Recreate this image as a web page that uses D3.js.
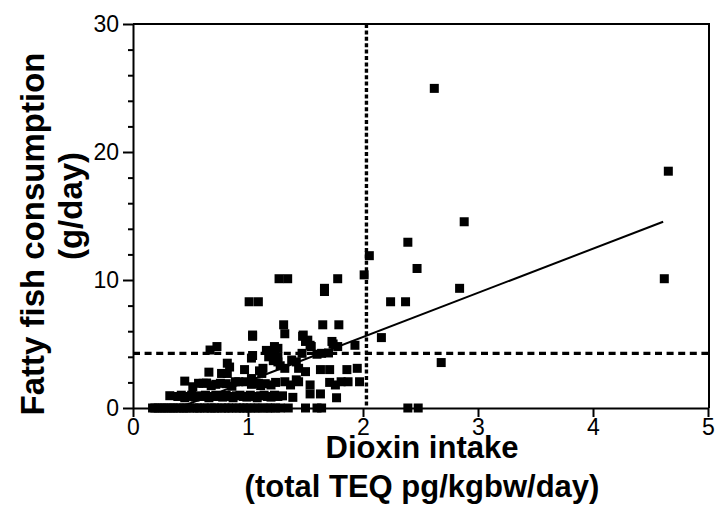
<!DOCTYPE html>
<html>
<head>
<meta charset="utf-8">
<script src="https://cdn.jsdelivr.net/npm/d3@7"></script>
<style>
  body { margin: 0; background: #fff; }
</style>
</head>
<body>
<div id="chart"></div>
<script>
// dioxin intake (x) and fatty fish consumption (y), one entry per subject
const dioxin = [
  // fish = 0
  0.17,0.19,0.22,0.25,0.27,0.30,0.33,0.35,0.38,0.41,0.44,0.46,0.49,0.53,0.56,0.58,0.62,0.65,0.68,0.71,0.73,0.77,
  0.80,0.83,0.86,0.90,0.93,0.96,0.99,1.02,1.06,1.09,1.13,1.17,1.20,1.24,1.28,1.35,1.50,1.60,1.64,2.39,2.48,
  // fish ~1
  0.32,0.39,0.42,0.45,0.48,0.51,0.54,0.57,0.60,0.63,0.66,0.69,0.72,0.75,0.78,0.81,0.84,0.87,0.90,0.93,0.96,0.99,
  1.02,1.05,1.08,1.11,1.14,1.17,1.20,1.23,1.26,1.30,1.39,1.54,1.63,1.77,
  // fish ~2
  0.45,0.52,0.57,0.61,0.64,0.68,0.72,0.76,0.81,0.86,0.89,0.92,0.98,1.03,1.07,1.09,1.11,1.15,1.20,1.24,1.32,1.37,
  1.42,1.44,1.54,1.71,1.76,1.81,1.87,1.97,
  // 2.5 - 7
  0.66,0.77,0.82,0.84,0.82,0.97,1.03,1.03,1.10,1.13,1.12,1.20,1.26,1.26,1.22,1.28,1.32,1.38,1.42,1.44,1.47,1.50,
  1.55,1.50,1.64,1.70,1.73,1.78,1.63,1.71,1.86,1.95,1.93,1.16,0.67,0.73,1.04,1.31,1.32,1.48,1.65,1.79,2.16,1.54,
  1.74,1.23,1.18,1.26,1.04,1.60,1.52,1.04,1.475,2.68,
  // above 7
  1.01,1.09,1.27,1.345,1.78,1.665,1.665,2.01,2.055,2.24,2.37,2.39,2.47,2.62,2.88,2.84,4.655,4.62
];
const fish = [
  0,0,0,0,0,0,0,0,0,0,0,0,0,0,0,0,0,0,0,0,0,0,
  0,0,0,0,0,0,0,0,0,0,0,0,0,0,0,0,0,0,0,0,0,
  0.96,0.9,1.0,0.8,0.9,1.0,0.85,0.95,0.9,1.0,0.8,0.9,1.0,0.9,0.85,1.0,0.9,0.8,0.95,1.0,0.9,0.85,
  1.0,0.9,0.8,0.95,1.0,0.9,0.85,1.0,0.9,0.95,0.83,1.1,1.1,0.8,
  2.1,1.66,1.93,1.93,1.95,1.75,1.85,1.93,1.9,1.7,2.05,2.05,2.05,1.85,1.95,1.93,1.75,1.9,1.8,2.0,2.05,1.8,
  2.2,2.05,1.8,2.0,1.8,2.05,2.05,2.05,
  2.8,2.7,2.7,3.2,3.5,3.0,2.3,3.9,2.9,3.1,2.7,4.27,4.66,3.6,3.7,3.3,3.1,3.75,3.6,3.1,4.27,5.2,
  4.8,2.84,4.27,4.3,5.2,4.8,3.0,3.0,3.0,3.1,4.9,4.5,4.53,4.8,5.7,6.5,5.8,5.7,6.5,6.5,5.5,4.9,
  5.0,4.8,4.0,4.0,4.1,4.2,5.3,5.6,5.6,3.55,
  8.3,8.3,10.1,10.1,10.1,9.35,9.1,10.4,11.9,8.3,8.3,12.95,10.9,24.97,14.55,9.35,18.5,10.1
];

const xTicks = [0, 1, 2, 3, 4, 5];
const yTicks = [0, 10, 20, 30];
const yMinor = [2, 4, 6, 8, 12, 14, 16, 18, 22, 24, 26, 28];

// reference cut-offs and regression line
const cutDioxin = 2.03;
const cutFish = 4.27;
const fitX = [0.42, 4.61];
const fitY = [0.1, 14.55];

const W = 718, H = 514;
const mLeft = 133, mRight = 709, mTop = 24, mBottom = 408;

const svg = d3.select("#chart").append("svg")
    .attr("width", W)
    .attr("height", H)
    .style("font-family", "'Liberation Sans', Arial, sans-serif");

const x = d3.scaleLinear().domain([0, 5]).range([mLeft, mRight - 1]);
const y = d3.scaleLinear().domain([0, 30]).range([mBottom, mTop]);

// frame (top + right)
svg.append("path")
    .attr("d", `M${mLeft},${mTop}H${mRight}V${mBottom}`)
    .attr("fill", "none")
    .attr("stroke", "#000")
    .attr("stroke-width", 2);

// points
const pts = dioxin.map((d, i) => [d, fish[i]]);
const s = 9;
svg.append("g")
    .selectAll("rect")
    .data(pts)
    .enter().append("rect")
      .attr("x", d => x(d[0]) - s / 2)
      .attr("y", d => y(d[1]) - s / 2)
      .attr("width", s)
      .attr("height", s)
      .attr("fill", "#000");

// regression line
svg.append("line")
    .attr("x1", x(fitX[0])).attr("y1", y(fitY[0]))
    .attr("x2", x(fitX[1])).attr("y2", y(fitY[1]))
    .attr("stroke", "#000")
    .attr("stroke-width", 2);

// dashed cut-off lines
svg.append("line")
    .attr("x1", x(cutDioxin)).attr("x2", x(cutDioxin))
    .attr("y1", mTop).attr("y2", mBottom)
    .attr("stroke", "#000")
    .attr("stroke-width", 3.4)
    .attr("stroke-dasharray", "4,2.4");

svg.append("line")
    .attr("x1", mLeft).attr("x2", mRight)
    .attr("y1", y(cutFish)).attr("y2", y(cutFish))
    .attr("stroke", "#000")
    .attr("stroke-width", 3.3)
    .attr("stroke-dasharray", "7,4.6");

// axes
svg.append("g")
    .attr("transform", `translate(${mLeft},0)`)
    .call(d3.axisLeft(y).tickValues(yTicks).tickSize(10).tickSizeOuter(0).tickPadding(4));

svg.append("g")
    .attr("transform", `translate(${mLeft},0)`)
    .call(d3.axisLeft(y).tickValues(yMinor).tickSize(5).tickSizeOuter(0).tickFormat(""))
    .select(".domain").remove();

svg.append("g")
    .attr("transform", `translate(0,${mBottom})`)
    .call(d3.axisBottom(x).tickValues(xTicks).tickSize(9).tickSizeOuter(0).tickPadding(2)
      .tickFormat(d3.format("d")));

svg.selectAll(".domain, .tick line")
    .attr("stroke", "#000")
    .attr("stroke-width", 2);

svg.selectAll(".tick text")
    .attr("fill", "#000")
    .style("font-size", "23px")
    .style("font-family", "'Liberation Sans', Arial, sans-serif");

// axis titles
svg.append("text")
    .attr("x", 422).attr("y", 458)
    .attr("text-anchor", "middle")
    .style("font-size", "31px")
    .style("font-weight", "bold")
    .text("Dioxin intake");

svg.append("text")
    .attr("x", 422).attr("y", 497)
    .attr("text-anchor", "middle")
    .style("font-size", "31px")
    .style("font-weight", "bold")
    .text("(total TEQ pg/kgbw/day)");

svg.append("text")
    .attr("transform", "translate(44,234) rotate(-90)")
    .attr("text-anchor", "middle")
    .style("font-size", "33px")
    .style("font-weight", "bold")
    .text("Fatty fish consumption");

svg.append("text")
    .attr("transform", "translate(82,206) rotate(-90)")
    .attr("text-anchor", "middle")
    .style("font-size", "33px")
    .style("font-weight", "bold")
    .text("(g/day)");
</script>
</body>
</html>
